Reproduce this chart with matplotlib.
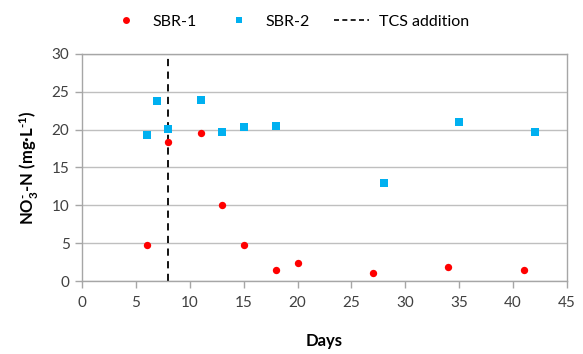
import matplotlib
matplotlib.use("Agg")
import matplotlib.pyplot as plt
from matplotlib.lines import Line2D

plt.rcParams['font.family'] = ['Lato', 'DejaVu Sans']
plt.rcParams['mathtext.fontset'] = 'custom'
plt.rcParams['mathtext.rm'] = 'Lato:bold'
plt.rcParams['mathtext.it'] = 'Lato:bold'
plt.rcParams['mathtext.bf'] = 'Lato:bold'
plt.rcParams['mathtext.default'] = 'rm'

sbr1_days = [6, 8, 11, 13, 15, 18, 20, 27, 34, 41]
sbr1_vals = [4.7, 18.4, 19.5, 10.0, 4.75, 1.4, 2.35, 1.0, 1.85, 1.45]
sbr2_days = [6, 7, 8, 11, 13, 15, 18, 28, 35, 42]
sbr2_vals = [19.35, 23.85, 20.15, 23.95, 19.65, 20.4, 20.5, 12.95, 20.95, 19.7]
tcs_day = 8
xticks = list(range(0, 50, 5))
yticks = list(range(0, 35, 5))

fig = plt.figure(figsize=(5.83, 3.54), dpi=100)
ax = fig.add_axes([0.1407, 0.2062, 0.8319, 0.6413])

grid_c = '#a6a6a6'
ax.set_xlim(0, 45)
ax.set_ylim(0, 30)
ax.set_xticks(xticks)
ax.set_yticks(yticks)
for y in yticks:
    ax.axhline(y, color='#bfbfbf', lw=1.0, zorder=0)
for s in ax.spines.values():
    s.set_color(grid_c)
    s.set_linewidth(1.0)
ax.tick_params(axis='both', color=grid_c, length=5, width=1.0, labelsize=11,
               labelcolor='#404040', direction='out')
ax.tick_params(axis='x', pad=6)
ax.tick_params(axis='y', pad=4)

ax.scatter(sbr1_days, sbr1_vals, s=28, marker='o', color='#FF0000', zorder=3, linewidths=0)
ax.scatter(sbr2_days, sbr2_vals, s=30, marker='s', color='#00B0F0', zorder=3, linewidths=0)
ax.axvline(tcs_day, color='black', lw=1.3, ls=(0, (4, 3)), zorder=2)

ax.set_xlabel('Days', fontsize=12, fontweight='bold', labelpad=16)
ax.set_ylabel(r'NO$_3^{\text{-}}$-N (mg·L$^{\text{-}1}$)', fontsize=12, fontweight='bold', labelpad=8)

handles = [
    Line2D([], [], marker='o', color='#FF0000', ls='none', markersize=5, markeredgewidth=0),
    Line2D([], [], marker='s', color='#00B0F0', ls='none', markersize=5, markeredgewidth=0),
    Line2D([], [], color='black', lw=1.2, ls=(0, (3, 2))),
]
fig.legend(handles, ['SBR-1', 'SBR-2', 'TCS addition'], loc='upper center',
           bbox_to_anchor=(0.495, 1.0), ncol=3, frameon=False, fontsize=11.5,
           handlelength=2.2, columnspacing=1.5, handletextpad=0.6)

fig.savefig('out.png', dpi=100)
